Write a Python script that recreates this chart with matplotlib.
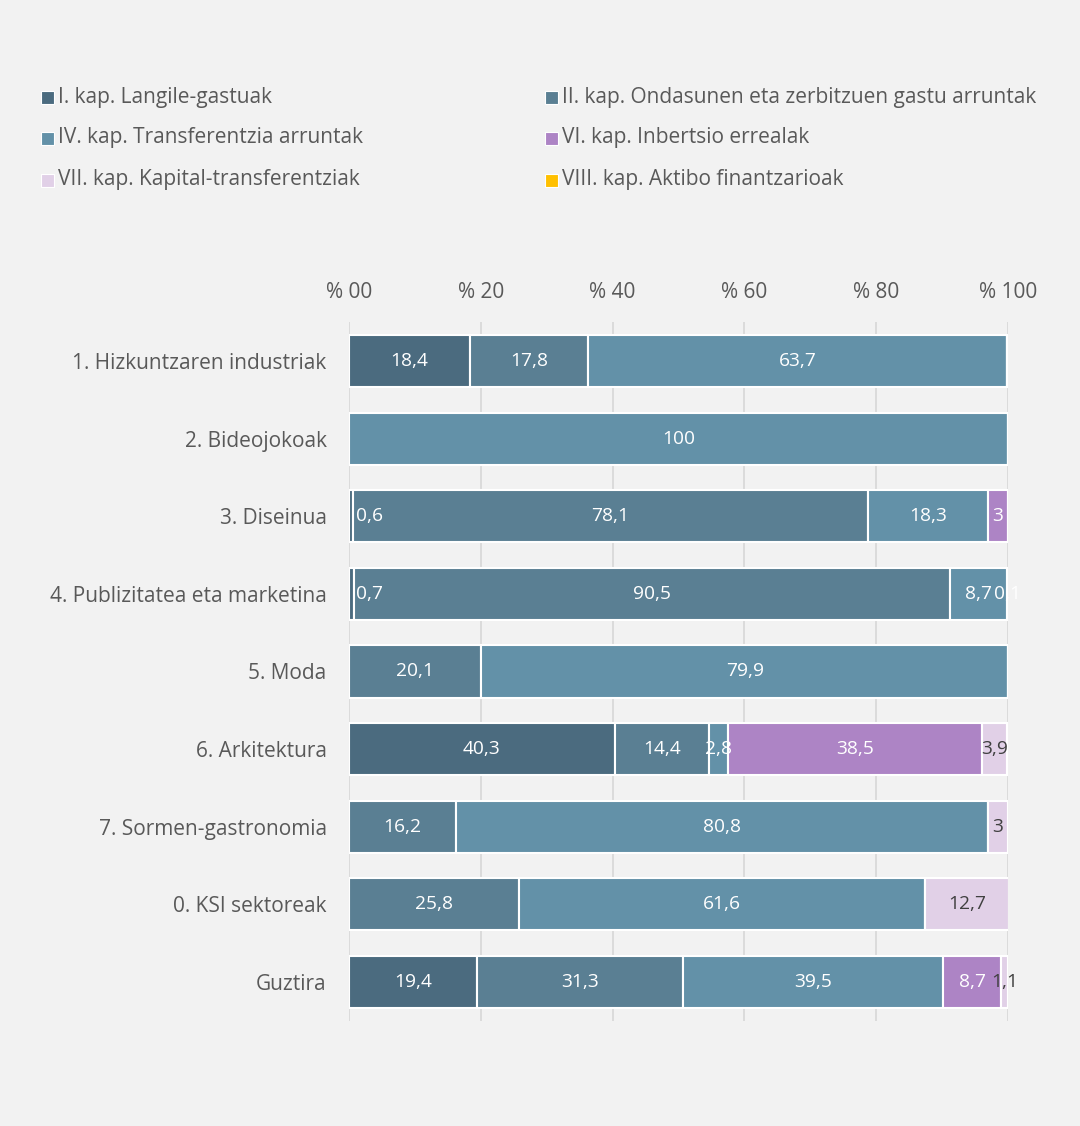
import numpy as np
import matplotlib.pyplot as plt
from matplotlib.patches import Rectangle

plt.rcParams['font.family'] = ['Open Sans', 'DejaVu Sans']

# Datuak
kategoriak = ['1. Hizkuntzaren industriak', '2. Bideojokoak', '3. Diseinua',
              '4. Publizitatea eta marketina', '5. Moda', '6. Arkitektura',
              '7. Sormen-gastronomia', '0. KSI sektoreak', 'Guztira']
serieak = ['I. kap. Langile-gastuak',
           'II. kap. Ondasunen eta zerbitzuen gastu arruntak',
           'IV. kap. Transferentzia arruntak',
           'VI. kap. Inbertsio errealak',
           'VII. kap. Kapital-transferentziak',
           'VIII. kap. Aktibo finantzarioak']
kap_I = [18.4, 0, 0.6, 0.7, 0, 40.3, 0, 0, 19.4]
kap_II = [17.8, 0, 78.1, 90.5, 20.1, 14.4, 16.2, 25.8, 31.3]
kap_IV = [63.7, 100, 18.3, 8.7, 79.9, 2.8, 80.8, 61.6, 39.5]
kap_VI = [0, 0, 3, 0.1, 0, 38.5, 0, 0, 8.7]
kap_VII = [0, 0, 0, 0, 0, 3.9, 3, 12.7, 1.1]
kap_VIII = [0, 0, 0, 0, 0, 0, 0, 0, 0]
ticks = [0, 20, 40, 60, 80, 100]
tick_labels = ['% 00', '% 20', '% 40', '% 60', '% 80', '% 100']

koloreak = ['#4b6b7f', '#5a7f93', '#6391a8', '#ad84c5', '#e1d0e7', '#ffc000']
testu_kol = ['white', 'white', 'white', 'white', '#404040', '#404040']
grisa = '#595959'

fig = plt.figure(figsize=(10.8, 11.26), dpi=100, facecolor='#f2f2f2')
ax = fig.add_axes([0.3231, 0.0933, 0.6102, 0.6207], facecolor='#f2f2f2')

y = np.arange(len(kategoriak))
ezkerra = np.zeros(len(kategoriak))
datuak = [kap_I, kap_II, kap_IV, kap_VI, kap_VII, kap_VIII]
for balioak, kol, tk in zip(datuak, koloreak, testu_kol):
    balioak = np.array(balioak)
    ax.barh(y, balioak, left=ezkerra, height=0.67, color=kol,
            edgecolor='white', linewidth=1.5, zorder=3)
    for i, v in enumerate(balioak):
        if v > 0:
            txt = ('%g' % v).replace('.', ',')
            xpos, ha = ezkerra[i] + v / 2, 'center'
            if xpos < 2:
                xpos, ha = 1.0, 'left'
            ax.text(xpos, y[i], txt, ha=ha, va='center',
                    color=tk, fontsize=13.8, zorder=4)
    ezkerra += balioak

ax.set_xlim(0, 100)
ax.set_ylim(len(kategoriak) - 0.5, -0.5)
ax.set_xticks(ticks)
ax.set_xticklabels(tick_labels)
ax.xaxis.tick_top()
ax.tick_params(axis='x', length=0, pad=14, labelsize=15, labelcolor=grisa)
ax.set_yticks(y)
ax.set_yticklabels(kategoriak)
ax.tick_params(axis='y', length=0, pad=16, labelsize=15, labelcolor=grisa)
ax.grid(axis='x', color='#d9d9d9', linewidth=1.3, zorder=0)
for s in ax.spines.values():
    s.set_visible(False)

# Legenda
leg_x = [47, 551]
leg_y = [97, 138, 180]
for k, izena in enumerate(serieak):
    fila, zut = k // 2, k % 2
    px, py = leg_x[zut], leg_y[fila]
    fig.patches.append(Rectangle(((px - 6.5) / 1080, 1 - (py + 6.5) / 1126),
                                 13 / 1080, 13 / 1126, transform=fig.transFigure,
                                 facecolor=koloreak[k], edgecolor='white', linewidth=0.8))
    fig.text((px + 11) / 1080, 1 - py / 1126, izena, ha='left', va='center',
             fontsize=15, color=grisa)

fig.savefig('out.png', dpi=100, facecolor=fig.get_facecolor())
